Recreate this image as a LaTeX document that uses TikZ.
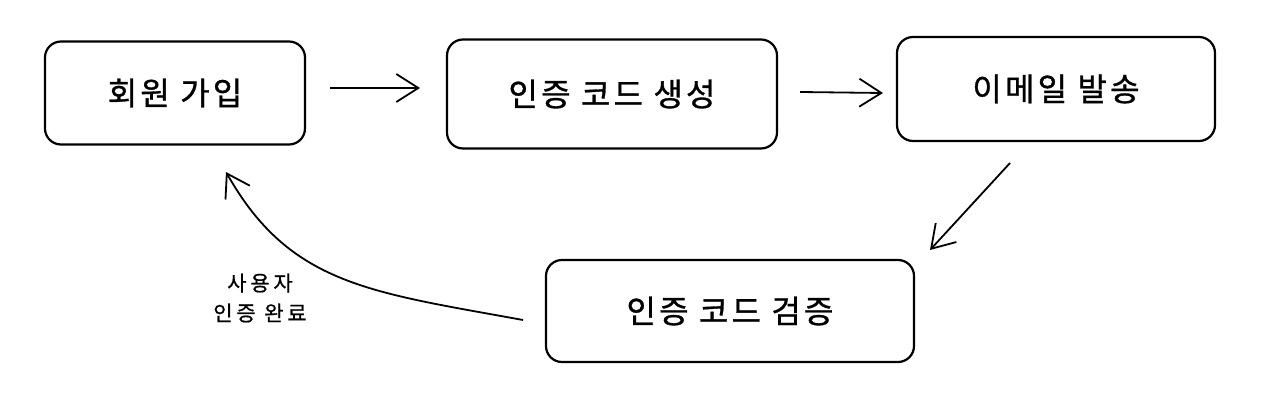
\documentclass[tikz,border=0pt]{standalone}
\usepackage{fontspec}
\usetikzlibrary{arrows.meta}
\newfontfamily\krfont[LetterSpace=10,FakeBold=1.0]{Noto Sans CJK KR}
\newfontfamily\krlabel[LetterSpace=18,FakeBold=0.8]{Noto Sans CJK KR}
\begin{document}
\begin{tikzpicture}[x=1pt,y=-1pt,
  stepbox/.style={draw=black, line width=2.2pt, rounded corners=16pt, font=\krfont\fontsize{32}{38}\selectfont, inner sep=0pt, align=center},
  conn/.style={line width=1.8pt, -{Straight Barb[length=22pt,width=28pt,line width=1.8pt]}},
  lbl/.style={font=\krlabel\fontsize{21}{30}\selectfont, align=center}]
\useasboundingbox (0,0) rectangle (1280,401);
\node[stepbox, minimum width=260pt, minimum height=103pt] (b1) at (175,93) {회원 가입};
\node[stepbox, minimum width=330pt, minimum height=109pt] (b2) at (612,94) {인증 코드 생성};
\node[stepbox, minimum width=318pt, minimum height=104pt] (b3) at (1056,89) {이메일 발송};
\node[stepbox, minimum width=368pt, minimum height=102pt] (b4) at (730,311) {인증 코드 검증};
\coordinate (a1s) at (330,88); \coordinate (a1e) at (420,88);
\coordinate (a2s) at (800,92); \coordinate (a2e) at (883,93);
\coordinate (a3s) at (1010,163); \coordinate (a3e) at (930,250);
\coordinate (a4s) at (523,320); \coordinate (a4e) at (226,172);
\draw[conn] (a1s) -- (a1e);
\draw[conn] (a2s) -- (a2e);
\draw[conn] (a3s) -- (a3e);
\draw[conn] (a4s) .. controls (370,292) and (290,285) .. (a4e);
\node[lbl] (l4) at (260,298) {사용자\\인증 완료};
\end{tikzpicture}
\end{document}
